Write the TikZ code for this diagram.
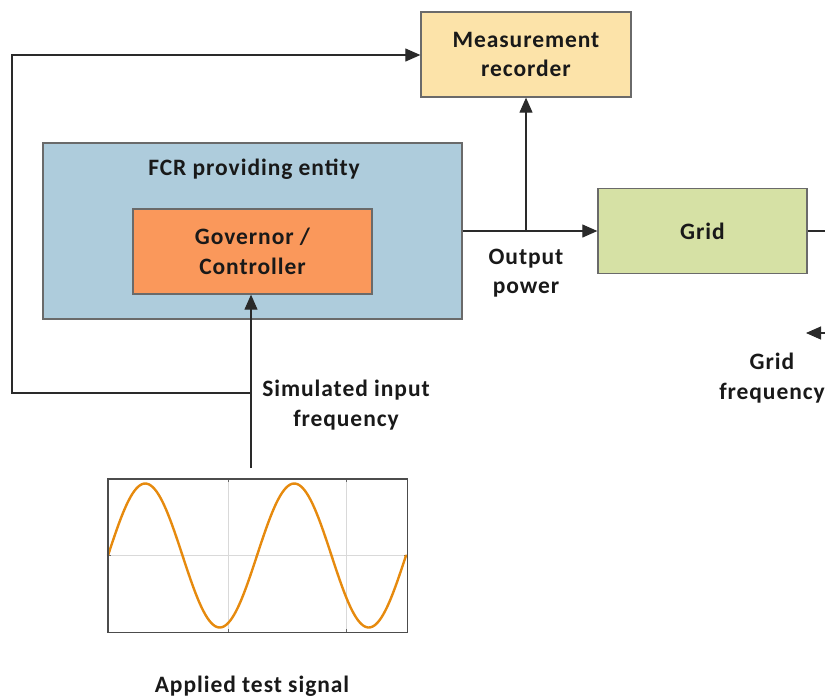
\documentclass[tikz,border=0pt]{standalone}
\usepackage{fontspec}
\setmainfont{Carlito}[LetterSpace=4]
\usetikzlibrary{arrows.meta}
\definecolor{recfill}{HTML}{FCE3A9}
\definecolor{fcrfill}{HTML}{AECCDC}
\definecolor{govfill}{HTML}{FA985B}
\definecolor{gridfill}{HTML}{D6E1A5}
\definecolor{boxline}{HTML}{6A6A6A}
\definecolor{wire}{HTML}{2A2A2A}
\definecolor{sine}{HTML}{E68A0E}
\tikzset{
  blk/.style={draw=boxline, line width=1.3pt, rectangle, inner sep=0pt, align=center,
     font=\fontsize{23.5}{29.5}\selectfont\bfseries, text=black!90},
  lbl/.style={align=center, font=\fontsize{23.5}{29.5}\selectfont\bfseries, text=black!90, inner sep=0pt},
  wireline/.style={draw=wire, line width=1.1pt},
  arr/.style={wireline, -{Triangle[length=15pt,width=13pt]}},
}
\begin{document}
\begin{tikzpicture}[x=1pt,y=-1pt]
\useasboundingbox (0,0) rectangle (825,697);
% boxes
\node[blk, fill=recfill, minimum width=210pt, minimum height=85pt] (rec) at (526,54.5) {Measurement\\recorder};
\node[blk, fill=fcrfill, minimum width=419pt, minimum height=176pt] (fcr) at (252.5,231) {};
\node[lbl] (fcrlbl) at (254,169) {FCR providing entity};
\node[blk, fill=govfill, minimum width=239pt, minimum height=85pt] (gov) at (252.5,251.5) {Governor /\\Controller};
\node[blk, fill=gridfill, minimum width=209pt, minimum height=85pt] (grid) at (702.5,231) {Grid};
% coordinates
\coordinate (br) at (526,231);
\coordinate (gout) at (826,231);
\coordinate (fin) at (826,333);
\coordinate (fend) at (806,333);
\coordinate (sigtop) at (251,468);
\coordinate (jn) at (251,393);
\coordinate (lb) at (12,393);
\coordinate (lt) at (12,55);
% connectors
\draw[arr] (fcr.east |- br) -- (grid.west |- br);
\draw[arr] (br) -- (rec.south);
\draw[wireline] (grid.east |- gout) -- (gout);
\draw[arr] (fin) -- (fend);
\draw[arr] (sigtop) -- (gov.south -| sigtop);
\draw[arr] (jn) -- (lb) -- (lt) -- (rec.west |- lt);
% labels
\node[lbl] (outlbl) at (526,273) {Output\\power};
\node[lbl] (simlbl) at (346,405) {Simulated input\\frequency};
\node[lbl] (gflbl) at (772,378) {Grid\\frequency};
\node[lbl] (applbl) at (252,686) {Applied test signal};
% signal plot
\node[draw=none, minimum width=299pt, minimum height=153pt, inner sep=0pt] (sig) at (257.5,555.5) {};
\draw[black!15, line width=0.8pt] (228,479) -- (228,632) (346,479) -- (346,632) (108,555.5) -- (407,555.5);
\draw[black!60, line width=0.8pt] (108,479) -- ++(0,3) (228,479) -- ++(0,3) (346,479) -- ++(0,3) (407,479) -- ++(0,3)
  (108,632) -- ++(0,-3) (228,632) -- ++(0,-3) (346,632) -- ++(0,-3) (407,632) -- ++(0,-3)
  (108,479) -- ++(3,0) (108,555.5) -- ++(3,0) (108,632) -- ++(3,0)
  (407,479) -- ++(-3,0) (407,555.5) -- ++(-3,0) (407,632) -- ++(-3,0);
\draw[sine, line width=2.4pt, line cap=round] plot[domain=108:406, samples=160, smooth] (\x, {555.5-72*sin(2.4161*(\x-108))});
\draw[black!70, line width=1.4pt] (sig.north west) rectangle (sig.south east);
\end{tikzpicture}
\end{document}
